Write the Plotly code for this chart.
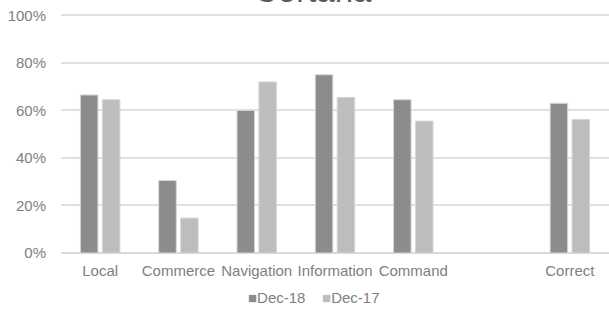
import plotly.graph_objects as go

categories = ["Local", "Commerce", "Navigation", "Information", "Command", " ", "Correct"]
dec18 = [0.665, 0.305, 0.60, 0.75, 0.645, None, 0.63]
dec17 = [0.645, 0.147, 0.72, 0.655, 0.555, None, 0.562]
series_names = ["Dec-18", "Dec-17"]
colors = ["#8c8c8c", "#bdbdbd"]
title_text = "Cortana"
tick_vals = [0, 0.2, 0.4, 0.6, 0.8, 1.0]

FONT = "Liberation Sans, Arial, sans-serif"
PLOT_H = 311 - 13 - 58

fig = go.Figure()
for name, vals, col in zip(series_names, [dec18, dec17], colors):
    fig.add_trace(go.Bar(
        x=categories, y=vals, name=name,
        marker=dict(color=col, line=dict(color="#d6d6d6", width=1)),
        showlegend=False,
    ))

fig.update_layout(
    width=609, height=311,
    margin=dict(l=61, r=0, t=13, b=58, autoexpand=False),
    paper_bgcolor="white", plot_bgcolor="white",
    barmode="group", bargap=0.44, bargroupgap=0.2,
    font=dict(family=FONT, size=15, color="#808080"),
    xaxis=dict(
        type="category", categoryorder="array", categoryarray=categories,
        showgrid=False, zeroline=False, showline=False, ticks="",
        tickfont=dict(size=15, color="#808080"), automargin=False,
        ticklabelstandoff=7,
    ),
    yaxis=dict(
        range=[0, 1.01], tickvals=tick_vals, tickformat=".0%",
        showgrid=True, gridcolor="#e0e0e0", gridwidth=1.5,
        zeroline=True, zerolinecolor="#d9d9d9", zerolinewidth=1.5,
        showline=False, ticks="", ticklabelstandoff=14,
        ticklabeloverflow="allow",
        tickfont=dict(size=15, color="#808080"), automargin=False,
    ),
)

# partially visible title at the top
fig.add_annotation(
    text=title_text, xref="paper", yref="paper",
    x=(313 - 61) / 548, y=1.0 + 2 / PLOT_H, xanchor="center", yanchor="bottom",
    showarrow=False, font=dict(family=FONT, size=33, color="#595959"),
)

# legend
legend_html = "".join(
    f"<span style='color:{c}'>■</span>{n}" + ("    " if i == 0 else "")
    for i, (n, c) in enumerate(zip(series_names, colors))
)
fig.add_annotation(
    text=legend_html, xref="paper", yref="paper",
    x=(314 - 61) / 548, y=-(297 - 253) / PLOT_H, xanchor="center", yanchor="middle",
    showarrow=False, font=dict(family=FONT, size=15, color="#808080"),
)

fig.write_html(
    "out.html",
    config={"displayModeBar": False},
    post_script="document.body.style.margin='0';",
)
